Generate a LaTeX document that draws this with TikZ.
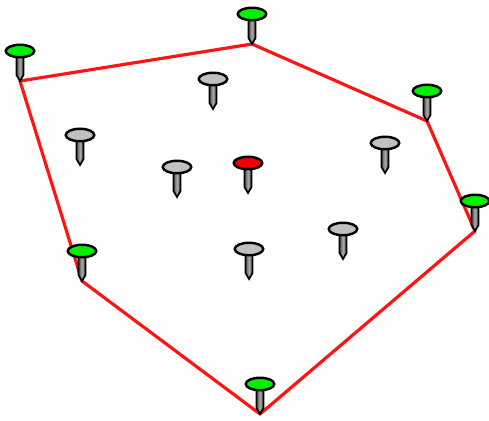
\documentclass[tikz,border=0pt]{standalone}
\usepackage{tikz}
\usetikzlibrary{shapes.geometric,calc}
\definecolor{pingreen}{RGB}{0,240,0}
\definecolor{pingray}{RGB}{192,192,192}
\definecolor{pinred}{RGB}{240,0,0}
\definecolor{hullred}{RGB}{255,20,20}

\begin{document}
\begin{tikzpicture}[x=0.02cm,y=-0.02cm,
  head/.style={ellipse,draw,line width=1.4pt,minimum width=0.57cm,minimum height=0.25cm,inner sep=0pt},
  shaft/.style={draw,line width=1pt,left color=black!65,right color=black!65,middle color=black!35},
  hull/.style={hullred,line width=1.8pt,line join=round}]
\useasboundingbox (0,0) rectangle (489,420);
% pin tips (hull ones first)
\coordinate (a) at (20,81);
\coordinate (b) at (252,44);
\coordinate (c) at (427,121);
\coordinate (d) at (475,231);
\coordinate (e) at (260,414);
\coordinate (f) at (82,281);
\coordinate (g1) at (213,109);
\coordinate (g2) at (80,165);
\coordinate (g3) at (177,197);
\coordinate (g4) at (385,173);
\coordinate (g5) at (343,259);
\coordinate (g6) at (249,279);
\coordinate (r) at (248,193);
% convex hull
\draw[hull] (a) -- (b) -- (c) -- (d) -- (e) -- (f) -- cycle;
% pins
\foreach \p/\col in {a/pingreen,b/pingreen,c/pingreen,d/pingreen,e/pingreen,f/pingreen,
    g1/pingray,g2/pingray,g3/pingray,g4/pingray,g5/pingray,g6/pingray,r/pinred}{
  \draw[shaft] ($(\p)+(-3.5,-28)$) -- ($(\p)+(-3.5,-6)$) -- (\p) -- ($(\p)+(3.5,-6)$) -- ($(\p)+(3.5,-28)$) -- cycle;
  \node[head,fill=\col] (\p h) at ($(\p)+(0,-30)$) {};
}
\end{tikzpicture}
\end{document}
